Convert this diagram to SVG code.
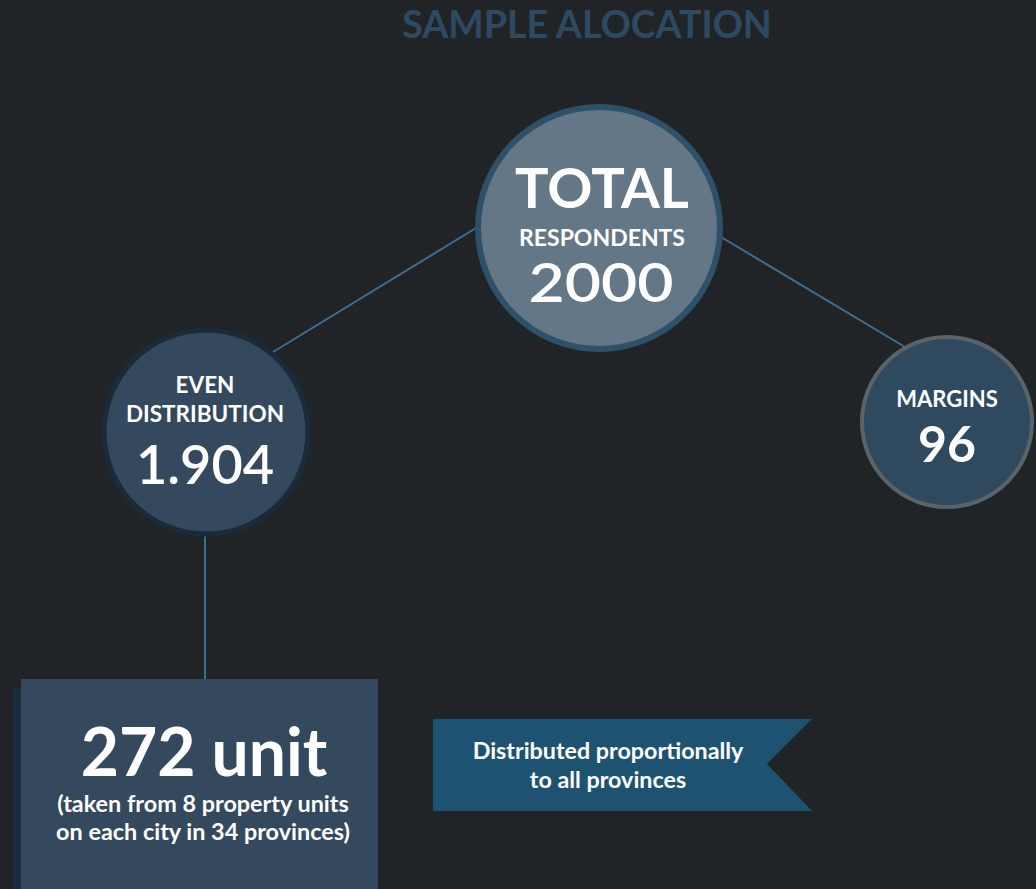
<svg xmlns="http://www.w3.org/2000/svg" width="1036" height="889" viewBox="0 0 1036 889">
<style>
text{font-family:Lato,"Open Sans","Liberation Sans",sans-serif;fill:#ffffff;text-anchor:middle}
.b{font-weight:bold}
.s{font-size:22.5px;font-weight:bold}
.conn line{stroke:#3f6d8f;stroke-width:2}
</style>
<rect width="1036" height="889" fill="#212427"/>
<text x="587" y="38" class="b" style="fill:#2e4a62;font-size:37.5px">SAMPLE ALOCATION</text>
<g class="conn" id="connectors">
<line x1="476" y1="228" x2="273" y2="352"/>
<line x1="721" y1="237" x2="905" y2="347"/>
<line x1="205" y1="536" x2="205" y2="680"/>
</g>
<g id="total">
<circle cx="599" cy="228" r="121" fill="#637786" stroke="#2e5068" stroke-width="6"/>
<text x="602" y="208" class="b" style="font-size:56px">TOTAL</text>
<text x="602" y="246" class="s" style="font-size:23px">RESPONDENTS</text>
<text x="601" y="302" style="font-size:54px;font-weight:600" textLength="145" lengthAdjust="spacingAndGlyphs">2000</text>
</g>
<g id="even">
<circle cx="206" cy="432" r="102" fill="#34495e" stroke="#1a2c3a" stroke-width="5"/>
<text x="205" y="393" class="s">EVEN</text>
<text x="205" y="422" class="s">DISTRIBUTION</text>
<text x="205" y="484" style="font-size:54px;font-weight:600">1.904</text>
</g>
<g id="margins">
<circle cx="947" cy="422" r="85" fill="#2f4a5f" stroke="#5a6468" stroke-width="4"/>
<text x="947" y="407" class="s" style="font-size:22px">MARGINS</text>
<text x="947" y="462" class="b" style="font-size:50px">96</text>
</g>
<g id="unit">
<rect x="13" y="689" width="10" height="200" fill="#1a2e3d"/>
<rect x="21" y="679" width="357" height="210" fill="#34495e"/>
<text x="204" y="776" class="b" style="font-size:66px">272 unit</text>
<text x="203" y="812" class="s" style="font-size:23.4px">(taken from 8 property units</text>
<text x="203" y="840" class="s" style="font-size:23.4px">on each city in 34 provinces)</text>
</g>
<g id="ribbon">
<polygon points="433,719 812,719 767,764 812,811 433,811" fill="#1d5370"/>
<text x="608" y="759" class="s" style="font-size:23.3px">Distributed proportionally</text>
<text x="608" y="788" class="s" style="font-size:23.3px">to all provinces</text>
</g>
</svg>
